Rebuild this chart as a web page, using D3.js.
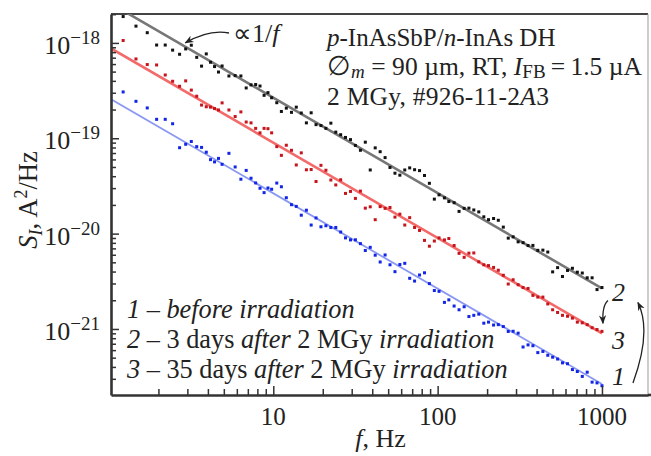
<!DOCTYPE html>
<html>
<head>
<meta charset="utf-8">
<script src="https://cdn.jsdelivr.net/npm/d3@7"></script>
<style>
  body { margin: 0; background: #fff; }
</style>
</head>
<body>
<div class="chart"></div>
<script>
// frequency points, Hz (shared by all three curves)
var freq = [1.22, 1.46, 1.71, 1.95, 2.20, 2.44, 2.69, 2.93, 3.17, 3.42, 3.66, 3.91, 4.15, 4.39, 4.64, 4.88,
  5.37, 5.86, 6.35, 6.84, 7.32, 7.81, 8.30, 8.79, 9.28, 9.77,
  10.5, 11.2, 12.0, 12.9, 13.8, 14.8, 15.9, 17.0, 18.2, 19.5,
  20.9, 22.4, 24.0, 25.7, 27.5, 29.5, 31.6, 33.9, 36.3, 38.9,
  41.7, 44.7, 47.9, 51.3, 55.0, 58.9, 63.1, 67.6, 72.4, 77.6,
  83.2, 89.1, 95.5, 102, 110, 117, 126, 135, 145, 155,
  166, 178, 191, 204, 219, 234, 251, 269, 288, 309,
  331, 355, 380, 407, 437, 468, 501, 537, 575, 617,
  661, 708, 759, 813, 871, 933, 1000];

// curve 1 - before irradiation (blue)
var before = [3.06e-19, 2.44e-19, 2.08e-19, 1.58e-19, 1.58e-19, 1.42e-19, 7.96e-20, 8.65e-20, 9.25e-20, 8.17e-20,
  8.02e-20, 7.14e-20, 5.97e-20, 5.65e-20, 6.15e-20, 5.33e-20, 6.95e-20, 5.00e-20, 3.72e-20, 4.60e-20,
  3.81e-20, 3.40e-20, 2.99e-20, 2.69e-20, 3.01e-20, 2.92e-20,
  3.39e-20, 3.10e-20, 2.38e-20, 2.01e-20, 1.93e-20, 1.56e-20, 1.76e-20, 1.23e-20, 1.46e-20, 1.18e-20,
  1.21e-20, 1.16e-20, 1.16e-20, 1.04e-20, 9.02e-21, 8.59e-21, 8.61e-21, 7.85e-21, 6.65e-21, 7.18e-21,
  5.94e-21, 5.04e-21, 5.97e-21, 4.71e-21, 3.99e-21, 4.74e-21, 4.88e-21, 3.40e-21, 3.18e-21, 3.68e-21,
  3.88e-21, 2.99e-21, 2.53e-21, 2.48e-21, 1.90e-21, 2.02e-21, 1.74e-21, 1.59e-21, 1.71e-21, 1.35e-21,
  1.39e-21, 1.43e-21, 1.15e-21, 1.18e-21, 1.10e-21, 1.11e-21, 1.06e-21, 9.42e-22, 9.46e-22, 9.04e-22,
  6.47e-22, 6.81e-22, 6.67e-22, 5.65e-22, 5.81e-22, 5.30e-22, 5.06e-22, 4.84e-22, 4.41e-22, 4.32e-22,
  3.75e-22, 3.58e-22, 3.18e-22, 3.52e-22, 2.77e-22, 2.72e-22, 2.54e-22];

// curve 2 - 3 days after 2 MGy (black)
var after3 = [1.89e-18, 1.50e-18, 1.28e-18, 9.5e-19, 9.5e-19, 8.4e-19, 7.6e-19, 8.65e-19, 9.46e-19, 7.06e-19,
  5.71e-19, 7.67e-19, 6.27e-19, 5.65e-19, 4.95e-19, 5.73e-19, 4.50e-19, 4.54e-19, 4.50e-19, 3.37e-19,
  3.63e-19, 3.66e-19, 3.53e-19, 2.82e-19, 3.01e-19, 2.66e-19,
  2.36e-19, 1.91e-19, 2.07e-19, 1.87e-19, 2.12e-19, 1.84e-19, 1.45e-19, 1.85e-19, 1.39e-19, 1.36e-19,
  1.27e-19, 1.44e-19, 1.16e-19, 1.09e-19, 1.02e-19, 9.68e-20, 8.41e-20, 7.48e-20, 9.10e-20, 4.65e-20,
  7.93e-20, 7.23e-20, 6.27e-20, 4.94e-20, 4.30e-20, 4.10e-20, 4.65e-20, 4.89e-20, 4.68e-20, 4.58e-20,
  4.07e-20, 3.37e-20, 2.30e-20, 2.55e-20, 2.37e-20, 2.17e-20, 2.11e-20, 1.71e-20, 1.84e-20, 1.85e-20,
  1.77e-20, 1.69e-20, 1.50e-20, 1.40e-20, 1.44e-20, 1.38e-20, 1.17e-20, 8.97e-21, 9.25e-21, 8.20e-21,
  8.04e-21, 7.50e-21, 7.52e-21, 6.68e-21, 6.71e-21, 6.41e-21, 3.97e-21, 4.40e-21, 3.55e-21, 4.11e-21,
  4.33e-21, 3.94e-21, 3.86e-21, 3.44e-21, 3.44e-21, 2.59e-21, 2.72e-21];

// curve 3 - 35 days after 2 MGy (red)
var after35 = [1.06e-18, 6.79e-19, 5.93e-19, 5.87e-19, 4.61e-19, 3.96e-19, 3.51e-19, 4.00e-19, 3.20e-19, 2.76e-19,
  2.23e-19, 2.14e-19, 2.12e-19, 2.05e-19, 1.98e-19, 2.35e-19, 1.98e-19, 1.69e-19, 1.89e-19, 1.48e-19,
  1.45e-19, 1.27e-19, 1.14e-19, 1.27e-19, 1.26e-19, 1.14e-19,
  8.17e-20, 6.62e-20, 8.45e-20, 7.48e-20, 5.25e-20, 7.03e-20, 4.67e-20, 4.70e-20, 3.52e-20, 5.20e-20,
  4.62e-20, 3.65e-20, 3.24e-20, 3.67e-20, 2.64e-20, 2.77e-20, 2.34e-20, 2.79e-20, 1.85e-20, 1.91e-20,
  1.40e-20, 1.92e-20, 1.84e-20, 1.88e-20, 1.49e-20, 1.60e-20, 1.23e-20, 1.47e-20, 1.16e-20, 1.08e-20,
  8.49e-21, 7.38e-21, 8.36e-21, 9.02e-21, 8.59e-21, 8.89e-21, 7.50e-21, 6.21e-21, 5.64e-21, 6.24e-21,
  6.27e-21, 5.06e-21, 4.71e-21, 4.62e-21, 4.42e-21, 4.13e-21, 3.66e-21, 2.96e-21, 3.28e-21, 2.91e-21,
  2.72e-21, 2.66e-21, 2.25e-21, 2.16e-21, 2.16e-21, 1.83e-21, 1.59e-21, 1.49e-21, 1.39e-21, 1.36e-21,
  1.30e-21, 1.18e-21, 1.16e-21, 1.11e-21, 1.03e-21, 9.86e-22, 9.44e-22];

// 1/f fit lines (end points)
var fitFreq = [1.03, 1000];
var fit1 = [2.57e-19, 2.65e-22];
var fit2 = [2.58e-18, 2.66e-21];
var fit3 = [8.75e-19, 9.0e-22];

var xTicks = [10, 100, 1000];
var yTicks = [1e-18, 1e-19, 1e-20, 1e-21];
var yTickExp = ["\u221218", "\u221219", "\u221220", "\u221221"];

var FONT = "Liberation Serif";
var INK = "#222";

var svgWidth = 651;
var svgHeight = 456;
var margin = { top: 14, right: 3, bottom: 61, left: 111 };
var width = svgWidth - margin.left - margin.right;
var height = svgHeight - margin.top - margin.bottom;

var svg = d3.select(".chart")
  .append("svg")
  .attr("width", svgWidth)
  .attr("height", svgHeight);

// every text gets its own font attribute
function addText(parent, size) {
  return parent.append("text")
    .attr("font-family", FONT)
    .attr("font-size", size)
    .attr("fill", INK);
}

var defs = svg.append("defs");
defs.append("clipPath").attr("id", "plotclip")
  .append("rect").attr("width", width).attr("height", height);
defs.append("marker")
  .attr("id", "arrowhead")
  .attr("viewBox", "0 0 10 10")
  .attr("refX", 9).attr("refY", 5)
  .attr("markerWidth", 9).attr("markerHeight", 9)
  .attr("markerUnits", "userSpaceOnUse")
  .attr("orient", "auto")
  .append("path").attr("d", "M0,1 L10,5 L0,9 L3,5 Z").attr("fill", INK);

var chartGroup = svg.append("g")
  .attr("transform", `translate(${margin.left}, ${margin.top})`);

var xScale = d3.scaleLog().domain([1.029, 1906]).range([0, width]);
var yScale = d3.scaleLog().domain([2.03e-22, 2.01e-18]).range([height, 0]);

// frame top / right
chartGroup.append("line").attr("x1", 0).attr("x2", width).attr("y1", 0).attr("y2", 0)
  .attr("stroke", "#444").attr("stroke-width", 2);
chartGroup.append("line").attr("x1", width).attr("x2", width).attr("y1", 0).attr("y2", height)
  .attr("stroke", "#999").attr("stroke-width", 1);

// fit lines and points
var plot = chartGroup.append("g").attr("clip-path", "url(#plotclip)");
var series = [
  { vals: before, fit: fit1, pt: "#1224e6", ln: "#8a98f2", lw: 1.8 },
  { vals: after35, fit: fit3, pt: "#c4141c", ln: "#f26a6a", lw: 2.6 },
  { vals: after3, fit: fit2, pt: "#111", ln: "#777", lw: 2.6 }
];
var line = d3.line().x(d => xScale(d[0])).y(d => yScale(d[1]));
series.forEach(function (s) {
  plot.append("path")
    .datum(fitFreq.map((f, i) => [f, s.fit[i]]))
    .attr("d", line)
    .attr("fill", "none")
    .attr("stroke", s.ln)
    .attr("stroke-width", s.lw);
});
series.forEach(function (s) {
  plot.selectAll(null)
    .data(freq.map((f, i) => [f, s.vals[i]]))
    .enter()
    .append("rect")
    .attr("x", d => xScale(d[0]) - 1.5)
    .attr("y", d => yScale(d[1]) - 1.5)
    .attr("width", 3)
    .attr("height", 3)
    .attr("fill", s.pt);
});

// x axis
var minorX = xScale.ticks().filter(t => xTicks.indexOf(t) < 0);
chartGroup.append("g")
  .attr("transform", `translate(0, ${height})`)
  .call(d3.axisBottom(xScale).tickValues(minorX).tickSize(-6).tickSizeOuter(0).tickFormat(""))
  .call(g => g.select(".domain").remove())
  .call(g => g.selectAll("line").attr("stroke", "#333").attr("stroke-width", 1.5));
var xAxis = chartGroup.append("g")
  .attr("transform", `translate(0, ${height})`)
  .call(d3.axisBottom(xScale).tickValues(xTicks).tickSize(-9).tickSizeOuter(0).tickFormat(""));
xAxis.select(".domain").attr("stroke", "#333").attr("stroke-width", 2.6);
xAxis.selectAll("line").attr("stroke", "#333").attr("stroke-width", 1.5);
// bottom line runs on to the page edge
chartGroup.append("line")
  .attr("x1", width).attr("x2", width + margin.right)
  .attr("y1", height).attr("y2", height)
  .attr("stroke", "#333").attr("stroke-width", 2.6);

xTicks.forEach(function (t) {
  addText(chartGroup, 25)
    .attr("x", xScale(t))
    .attr("y", height + 30)
    .attr("text-anchor", "middle")
    .text(d3.format("d")(t));
});

// y axis
var minorY = yScale.ticks().filter(t => yTicks.every(m => Math.abs(t / m - 1) > 1e-6));
chartGroup.append("g")
  .call(d3.axisLeft(yScale).tickValues(minorY).tickSize(-5).tickSizeOuter(0).tickFormat(""))
  .call(g => g.select(".domain").remove())
  .call(g => g.selectAll("line").attr("stroke", "#333").attr("stroke-width", 1.5));
var yAxis = chartGroup.append("g")
  .call(d3.axisLeft(yScale).tickValues(yTicks).tickSize(-8).tickSizeOuter(0).tickFormat(""));
yAxis.select(".domain").attr("stroke", "#333").attr("stroke-width", 2.6);
yAxis.selectAll("line").attr("stroke", "#333").attr("stroke-width", 1.5);

yTicks.forEach(function (t, i) {
  var lab = addText(chartGroup, 26)
    .attr("x", -11)
    .attr("y", yScale(t) + 11)
    .attr("text-anchor", "end");
  lab.append("tspan").text("10");
  lab.append("tspan").attr("dy", -10).attr("font-size", 19).text(yTickExp[i]);
});

// axis titles
var yTitle = addText(svg, 26.5)
  .attr("transform", "translate(37, 200) rotate(-90)")
  .attr("text-anchor", "middle");
yTitle.append("tspan").attr("font-style", "italic").text("S");
yTitle.append("tspan").attr("font-style", "italic").attr("font-size", 18).attr("dy", 5).text("I");
yTitle.append("tspan").attr("dy", -5).text(", A");
yTitle.append("tspan").attr("font-size", 18).attr("dy", -10).text("2");
yTitle.append("tspan").attr("dy", 10).text("/Hz");

var xTitle = addText(svg, 26)
  .attr("x", margin.left + xScale(45))
  .attr("y", 447)
  .attr("text-anchor", "middle");
xTitle.append("tspan").attr("font-style", "italic").text("f");
xTitle.append("tspan").text(", Hz");

// sample description, top right
var info = chartGroup.append("g").attr("transform", "translate(216, 0)");
var l1 = addText(info, 25).attr("y", 32);
l1.append("tspan").attr("font-style", "italic").text("p");
l1.append("tspan").text("-InAsSbP/");
l1.append("tspan").attr("font-style", "italic").text("n");
l1.append("tspan").text("-InAs DH");
var l2 = addText(info, 25.5).attr("y", 61).attr("letter-spacing", 0.05);
l2.append("tspan").attr("font-size", 27).text("\u2205");
l2.append("tspan").attr("font-style", "italic").attr("font-size", 19).attr("dy", 3).text("m");
l2.append("tspan").attr("dy", -3).text(" = 90 \u00b5m, RT, ");
l2.append("tspan").attr("font-style", "italic").text("I");
l2.append("tspan").attr("font-size", 19).attr("dy", 3).text("FB");
l2.append("tspan").attr("dy", -3).text("\u2009=\u20091.5 \u00b5A");
var l3 = addText(info, 25.5).attr("y", 91).attr("letter-spacing", 0.25);
l3.append("tspan").text("2 MGy, #926-11-2");
l3.append("tspan").attr("font-style", "italic").text("A");
l3.append("tspan").text("3");

// 1/f annotation
var prop = addText(chartGroup, 26).attr("x", 122).attr("y", 28);
prop.append("tspan").text("\u221d1/");
prop.append("tspan").attr("font-style", "italic").text("f");
var tipF = 3.0;
var tipX = xScale(tipF), tipY = yScale(2.66e-18 / tipF) - 5;
chartGroup.append("path")
  .attr("d", `M118,19 Q98,15 ${tipX - 2},${tipY}`)
  .attr("fill", "none").attr("stroke", INK).attr("stroke-width", 1.3)
  .attr("marker-end", "url(#arrowhead)");

// legend
var legendRows = [
  [["1", "i"], [" \u2013 ", ""], ["before irradiation", "i"]],
  [["2", "i"], [" \u2013 3 days ", ""], ["after", "i"], [" 2 MGy ", ""], ["irradiation", "i"]],
  [["3", "i"], [" \u2013 35 days ", ""], ["after", "i"], [" 2 MGy ", ""], ["irradiation", "i"]]
];
legendRows.forEach(function (row, r) {
  var t = addText(chartGroup, 26.3).attr("x", 16).attr("y", 304 + r * 30)
    .attr("xml:space", "preserve");
  row.forEach(function (p) {
    t.append("tspan").attr("font-style", p[1] ? "italic" : "normal").text(p[0]);
  });
});

// curve numbers at right end
var curveLabels = [["2", 2.66e-21, 13], ["3", 9.0e-22, 16], ["1", 2.65e-22, 1]];
curveLabels.forEach(function (c) {
  addText(chartGroup, 26)
    .attr("x", xScale(1000) + 10)
    .attr("y", yScale(c[1]) + c[2])
    .attr("font-style", "italic").text(c[0]);
});
// small arrow 2 -> 3 and large arrow 1 -> 2
var ax = xScale(1000);
chartGroup.append("path")
  .attr("d", `M${ax + 6},${yScale(2.66e-21) + 12} Q${ax},${yScale(2.66e-21) + 17} ${ax + 1},${yScale(9e-22) - 10}`)
  .attr("fill", "none").attr("stroke", INK).attr("stroke-width", 1.3)
  .attr("marker-end", "url(#arrowhead)");
chartGroup.append("path")
  .attr("d", `M${ax + 31},${yScale(2.65e-22) - 1} Q${ax + 50},${yScale(9e-22) - 2} ${ax + 36},${yScale(2.66e-21) + 14}`)
  .attr("fill", "none").attr("stroke", INK).attr("stroke-width", 1.3)
  .attr("marker-end", "url(#arrowhead)");
</script>
</body>
</html>
